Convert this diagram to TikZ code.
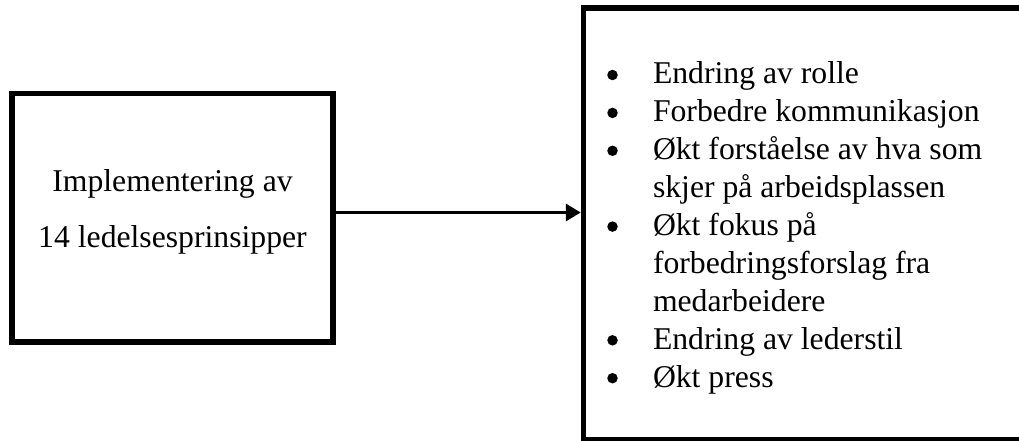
\documentclass[tikz,border=0pt]{standalone}
\usepackage{fontspec}
\setmainfont{Liberation Serif}
\usetikzlibrary{arrows.meta}
\begin{document}
\begin{tikzpicture}[x=1pt,y=-1pt,
  boxstyle/.style={draw=black, line width=5.5pt, inner sep=0pt, fill=none},
  txt/.style={font=\fontsize{31.7}{37.9}\selectfont, inner sep=0pt, outer sep=0pt},
  bul/.style={circle, fill=black, inner sep=0pt, minimum size=10.5pt},
  arr/.style={draw=black, line width=3.5pt, -{Triangle[length=15pt,width=17pt]}}]
\useasboundingbox (0,0) rectangle (1019,441);
\fill[white] (0,0) rectangle (1019,441);
% boxes
\node[boxstyle, minimum width=321pt, minimum height=248.5pt] (lb) at (172.5,217.75) {};
\node[boxstyle, minimum width=441.5pt, minimum height=431.5pt] (rb) at (804.25,223.75) {};
% left text
\node[txt, anchor=base] (t1) at (172.5,191) {Implementering av};
\node[txt, anchor=base] (t2) at (172.5,247) {14 ledelsesprinsipper};
% right list
\foreach \i/\yy/\b/\s in {1/84/1/Endring av rolle,
                         2/121.9/1/Forbedre kommunikasjon,
                         3/159.8/1/Økt forståelse av hva som,
                         4/197.7/0/skjer på arbeidsplassen,
                         5/235.6/1/Økt fokus på,
                         6/273.5/0/forbedringsforslag fra,
                         7/311.4/0/medarbeidere,
                         8/349.3/1/Endring av lederstil,
                         9/387.2/1/Økt press}{
  \node[txt, anchor=base west] (l\i) at (653,\yy) {\s};
  \ifnum\b=1
    \node[bul] (b\i) at (612.5,\yy-9) {};
  \fi
}
% arrow
\coordinate (ay) at (0,212.5);
\draw[arr] (lb.east |- ay) -- (rb.west |- ay);
\end{tikzpicture}
\end{document}
